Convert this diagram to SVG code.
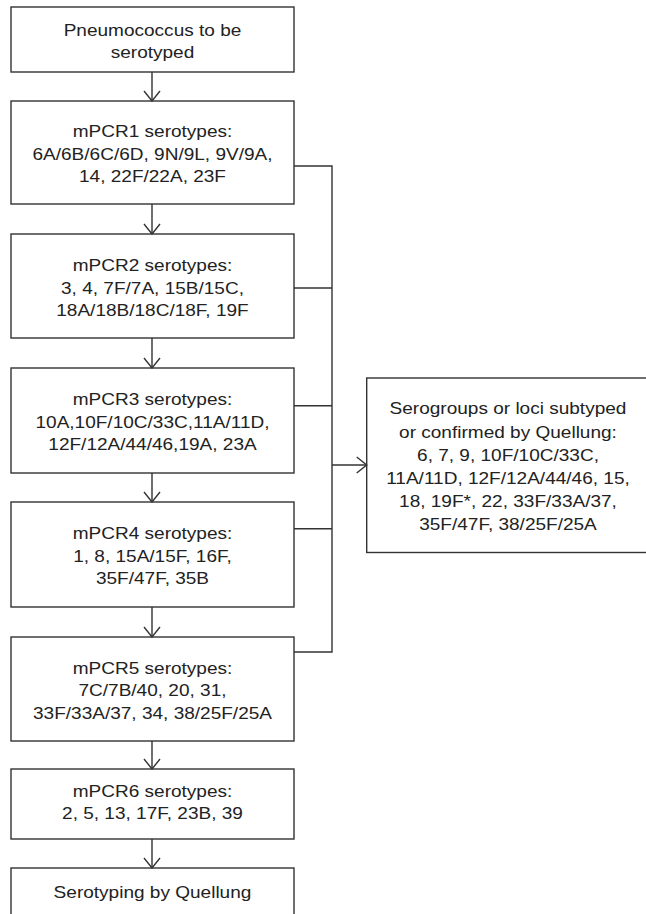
<svg xmlns="http://www.w3.org/2000/svg" width="646" height="914" viewBox="0 0 646 914">
<style>
.box{fill:#fff;stroke:#333;stroke-width:1.4}
.ln{fill:none;stroke:#333;stroke-width:1.4}
text{font-family:"Liberation Sans",Arial,sans-serif;font-size:17px;fill:#222;text-anchor:middle;transform-box:fill-box;transform-origin:center;transform:scaleX(1.12)}
</style>
<defs>
<marker id="ah" viewBox="0 0 12 18" refX="11" refY="9" markerWidth="12" markerHeight="18" markerUnits="userSpaceOnUse" orient="auto">
<path d="M1,1 L11,9 L1,17" fill="none" stroke="#333" stroke-width="1.4"/>
</marker>
</defs>
<rect width="646" height="914" fill="#fff"/>
<g id="n0"><rect class="box" x="11" y="7" width="283" height="65"/>
<text x="152.5" y="36.5">Pneumococcus to be</text><text x="152.5" y="58">serotyped</text></g>
<g id="n1"><rect class="box" x="11" y="101" width="283" height="103"/>
<text x="152.5" y="137.5">mPCR1 serotypes:</text><text x="152.5" y="160">6A/6B/6C/6D, 9N/9L, 9V/9A,</text><text x="152.5" y="182.5">14, 22F/22A, 23F</text></g>
<g id="n2"><rect class="box" x="11" y="234" width="283" height="104"/>
<text x="152.5" y="271.5">mPCR2 serotypes:</text><text x="152.5" y="294">3, 4, 7F/7A, 15B/15C,</text><text x="152.5" y="316.5">18A/18B/18C/18F, 19F</text></g>
<g id="n3"><rect class="box" x="11" y="368" width="283" height="105"/>
<text x="152.5" y="405.5">mPCR3 serotypes:</text><text x="152.5" y="428">10A,10F/10C/33C,11A/11D,</text><text x="152.5" y="450.5">12F/12A/44/46,19A, 23A</text></g>
<g id="n4"><rect class="box" x="11" y="502" width="283" height="105"/>
<text x="152.5" y="539.5">mPCR4 serotypes:</text><text x="152.5" y="562">1, 8, 15A/15F, 16F,</text><text x="152.5" y="584.5">35F/47F, 35B</text></g>
<g id="n5"><rect class="box" x="11" y="637" width="283" height="104"/>
<text x="152.5" y="674">mPCR5 serotypes:</text><text x="152.5" y="696.5">7C/7B/40, 20, 31,</text><text x="152.5" y="719">33F/33A/37, 34, 38/25F/25A</text></g>
<g id="n6"><rect class="box" x="11" y="769" width="283" height="70"/>
<text x="152.5" y="797">mPCR6 serotypes:</text><text x="152.5" y="819.5">2, 5, 13, 17F, 23B, 39</text></g>
<g id="n7"><rect class="box" x="11" y="868" width="283" height="60"/>
<text x="152.5" y="898">Serotyping by Quellung</text></g>
<g id="n8"><rect class="box" x="366.7" y="378" width="300" height="174.5"/>
<text x="508" y="414.5">Serogroups or loci subtyped</text>
<text x="508" y="437.6">or confirmed by Quellung:</text>
<text x="508" y="460.7">6, 7, 9, 10F/10C/33C,</text>
<text x="508" y="483.8">11A/11D, 12F/12A/44/46, 15,</text>
<text x="508" y="506.9">18, 19F*, 22, 33F/33A/37,</text>
<text x="508" y="530">35F/47F, 38/25F/25A</text></g>
<g id="connectors">
<path class="ln" d="M152,72 V101" marker-end="url(#ah)"/>
<path class="ln" d="M152,204 V234" marker-end="url(#ah)"/>
<path class="ln" d="M152,338 V368" marker-end="url(#ah)"/>
<path class="ln" d="M152,473 V502" marker-end="url(#ah)"/>
<path class="ln" d="M152,607 V637" marker-end="url(#ah)"/>
<path class="ln" d="M152,741 V769" marker-end="url(#ah)"/>
<path class="ln" d="M152,839 V868" marker-end="url(#ah)"/>
<path class="ln" d="M294,166 H332 V652 H294 M294,288 H332 M294,405.7 H332 M294,528.7 H332"/>
<path class="ln" d="M332,465 H366.7" marker-end="url(#ah)"/>
</g>
</svg>
